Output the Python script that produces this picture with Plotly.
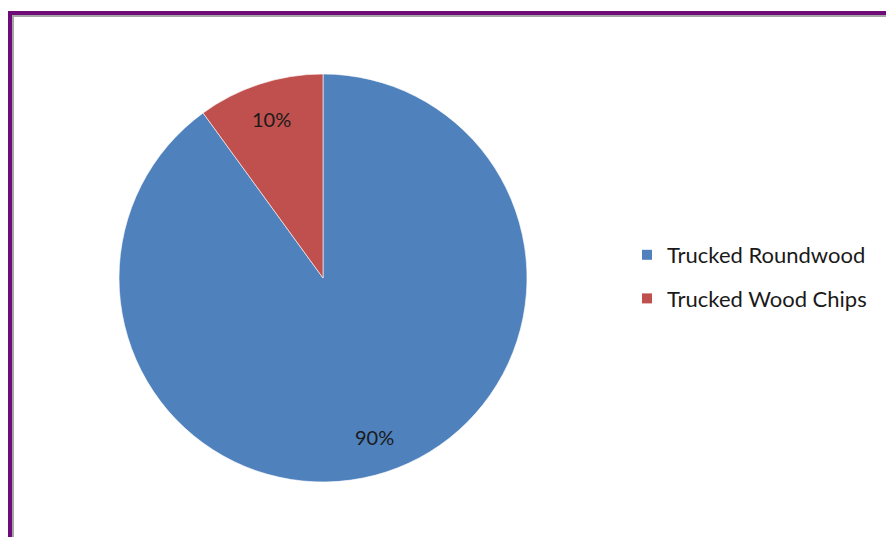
import math
import plotly.graph_objects as go

labels = ["Trucked Roundwood", "Trucked Wood Chips"]
values = [90, 10]
colors = ["#4F81BD", "#C0504D"]

W, H = 886, 537
cx, cy, r = 323, 278, 204
FONT = "Lato"

fig = go.Figure()
fig.add_trace(go.Pie(
    labels=labels, values=values, sort=False, direction="clockwise", rotation=0,
    marker=dict(colors=colors, line=dict(color="white", width=0.6)),
    textinfo="none", hoverinfo="label+percent", showlegend=False,
    domain=dict(x=[(cx - r) / W, (cx + r) / W], y=[(H - cy - r) / H, (H - cy + r) / H]),
))

# legend via dummy traces
for lab, col in zip(labels, colors):
    fig.add_trace(go.Scatter(
        x=[None], y=[None], mode="markers", name=lab, legendgroup=lab,
        marker=dict(symbol="square", size=10, color=col),
    ))

# percentage labels derived from data
total = sum(values)
cum = 0
annotations = []
for v in values:
    theta = math.radians(360 * (cum + v / 2) / total)
    cum += v
    px = cx + 0.82 * r * math.sin(theta)
    py = cy - 0.82 * r * math.cos(theta)
    annotations.append(dict(
        x=px / W, y=1 - py / H, xref="paper", yref="paper",
        xanchor="center", yanchor="middle",
        text=f"{round(100 * v / total)}%", showarrow=False,
        font=dict(family=FONT, size=20, color="#1a1a1a"),
    ))

shapes = [
    dict(type="line", xref="paper", yref="paper", x0=10 / W, x1=10 / W, y0=0, y1=1 - 11 / H,
         line=dict(color="#6F0A79", width=4)),
    dict(type="line", xref="paper", yref="paper", x0=8 / W, x1=1, y0=1 - 13 / H, y1=1 - 13 / H,
         line=dict(color="#6F0A79", width=4)),
    dict(type="line", xref="paper", yref="paper", x0=13 / W, x1=13 / W, y0=0, y1=1 - 15 / H,
         line=dict(color="#A6A6A6", width=2)),
    dict(type="line", xref="paper", yref="paper", x0=12 / W, x1=1, y0=1 - 16 / H, y1=1 - 16 / H,
         line=dict(color="#A6A6A6", width=2)),
]

fig.update_layout(
    width=W, height=H, margin=dict(l=0, r=0, t=0, b=0),
    paper_bgcolor="white", plot_bgcolor="white",
    xaxis=dict(visible=False), yaxis=dict(visible=False),
    showlegend=True,
    legend=dict(x=627 / W, y=1 - 234 / H, xanchor="left", yanchor="top",
                font=dict(family=FONT, size=22, color="#1a1a1a"),
                tracegroupgap=12, bgcolor="rgba(0,0,0,0)"),
    annotations=annotations, shapes=shapes,
)

fig.write_html("out.html")
